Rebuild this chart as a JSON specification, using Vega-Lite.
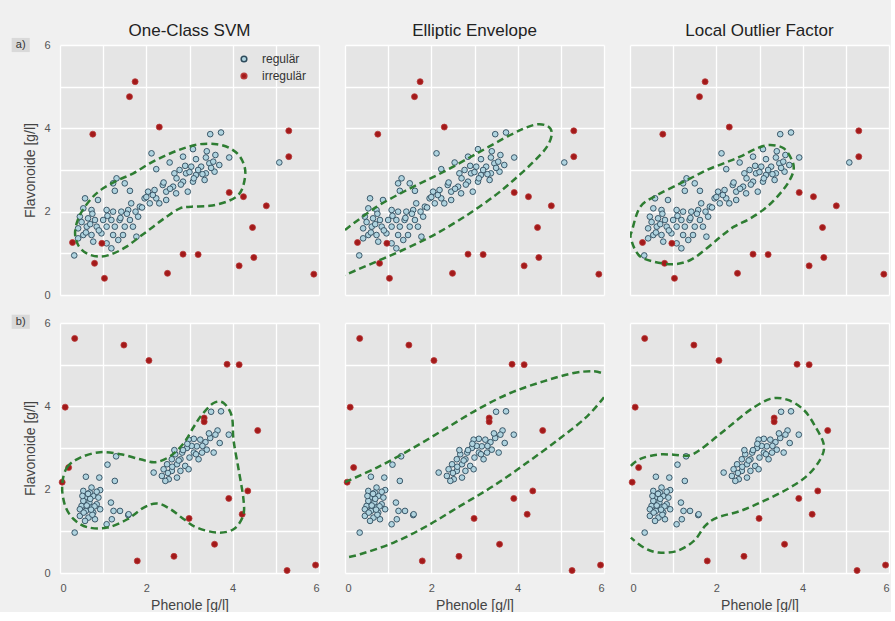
{
"$schema": "https://vega.github.io/schema/vega-lite/v6.json",
"background": "#f0f0f0",
"padding": {"left": 11, "top": 21, "right": 0, "bottom": 0},
"autosize": {"type": "pad"},
"config": {
 "view": {"fill": "#e5e5e5", "stroke": null},
 "axis": {"grid": true, "gridColor": "#ffffff", "gridWidth": 1.3, "domain": false, "ticks": false, "labelColor": "#555555", "labelFontSize": 11, "labelFont": "Liberation Sans", "titleFont": "Liberation Sans", "titleFontSize": 14, "titleFontWeight": "normal", "titleColor": "#444444"},
 "title": {"fontSize": 17, "font": "Liberation Sans", "fontWeight": "normal", "color": "#222222", "offset": 5, "frame": "group"},
 "legend": {"labelFont": "Liberation Sans"}
},
"datasets": {
 "regA": [{"x":3.48,"y":3.86},{"x":3.73,"y":3.9},{"x":2.12,"y":3.4},{"x":2.54,"y":3.18},{"x":2.23,"y":3.02},{"x":3.08,"y":3.5},{"x":2.85,"y":3.32},{"x":3.15,"y":3.26},{"x":3.38,"y":3.3},{"x":3.6,"y":3.36},{"x":3.92,"y":3.3},{"x":3.69,"y":3.12},{"x":3.46,"y":3.16},{"x":3.27,"y":3.08},{"x":3.04,"y":3.08},{"x":2.77,"y":3.0},{"x":2.65,"y":2.92},{"x":2.92,"y":2.92},{"x":3.15,"y":2.88},{"x":3.38,"y":2.92},{"x":3.58,"y":2.96},{"x":3.35,"y":2.76},{"x":3.08,"y":2.72},{"x":2.85,"y":2.72},{"x":2.62,"y":2.6},{"x":2.38,"y":2.64},{"x":2.19,"y":2.52},{"x":2.46,"y":2.48},{"x":2.69,"y":2.44},{"x":2.96,"y":2.48},{"x":2.04,"y":2.48},{"x":1.96,"y":2.32},{"x":2.23,"y":2.32},{"x":2.46,"y":2.28},{"x":2.08,"y":2.2},{"x":1.85,"y":2.12},{"x":1.65,"y":2.2},{"x":1.62,"y":2.5},{"x":1.27,"y":2.5},{"x":1.31,"y":2.8},{"x":1.5,"y":2.68},{"x":1.23,"y":2.68},{"x":1.81,"y":1.88},{"x":1.58,"y":2.04},{"x":1.42,"y":2.0},{"x":1.23,"y":2.0},{"x":1.08,"y":2.04},{"x":0.88,"y":2.28},{"x":0.58,"y":2.32},{"x":0.73,"y":2.04},{"x":0.54,"y":2.08},{"x":0.46,"y":1.88},{"x":0.65,"y":1.84},{"x":0.81,"y":1.8},{"x":1.0,"y":1.8},{"x":1.19,"y":1.8},{"x":1.38,"y":1.8},{"x":1.62,"y":1.8},{"x":1.69,"y":1.64},{"x":1.5,"y":1.64},{"x":1.27,"y":1.64},{"x":1.08,"y":1.64},{"x":0.85,"y":1.64},{"x":0.62,"y":1.64},{"x":0.42,"y":1.6},{"x":0.54,"y":1.44},{"x":0.73,"y":1.44},{"x":0.96,"y":1.48},{"x":1.23,"y":1.44},{"x":1.46,"y":1.44},{"x":1.77,"y":1.4},{"x":1.35,"y":1.32},{"x":1.08,"y":1.24},{"x":1.19,"y":1.12},{"x":0.42,"y":1.36},{"x":0.77,"y":1.28},{"x":2.4,"y":2.7},{"x":2.7,"y":2.8},{"x":3.0,"y":2.95},{"x":3.2,"y":3.0},{"x":2.55,"y":2.55},{"x":2.8,"y":2.65},{"x":3.1,"y":2.8},{"x":3.3,"y":2.9},{"x":2.0,"y":2.35},{"x":2.15,"y":2.4},{"x":1.75,"y":2.0},{"x":1.9,"y":2.1},{"x":0.6,"y":1.5},{"x":0.7,"y":1.7},{"x":0.5,"y":1.75},{"x":0.9,"y":1.55},{"x":1.1,"y":1.9},{"x":0.75,"y":1.95},{"x":1.4,"y":1.85},{"x":1.55,"y":1.95},{"x":3.5,"y":3.05},{"x":3.55,"y":3.2},{"x":3.4,"y":3.45},{"x":2.3,"y":2.2},{"x":2.9,"y":3.1},{"x":5.08,"y":3.18},{"x":0.33,"y":0.95}],
 "irrA": [{"x":1.74,"y":5.12},{"x":1.61,"y":4.76},{"x":0.76,"y":3.86},{"x":2.3,"y":4.03},{"x":5.3,"y":3.94},{"x":5.3,"y":3.32},{"x":3.92,"y":2.46},{"x":4.25,"y":2.36},{"x":4.78,"y":2.14},{"x":4.46,"y":1.62},{"x":4.49,"y":0.9},{"x":4.15,"y":0.7},{"x":5.88,"y":0.5},{"x":2.85,"y":0.98},{"x":3.2,"y":0.97},{"x":2.49,"y":0.52},{"x":1.03,"y":0.4},{"x":0.8,"y":0.76},{"x":0.97,"y":1.24},{"x":0.29,"y":1.26}],
 "regB": [{"x":1.1,"y":2.6},{"x":0.6,"y":2.31},{"x":0.91,"y":2.29},{"x":1.27,"y":2.21},{"x":0.93,"y":1.99},{"x":0.54,"y":1.97},{"x":0.73,"y":2.05},{"x":0.77,"y":1.85},{"x":0.58,"y":1.81},{"x":0.68,"y":1.69},{"x":0.85,"y":1.65},{"x":0.5,"y":1.61},{"x":0.6,"y":1.49},{"x":0.77,"y":1.45},{"x":0.93,"y":1.53},{"x":0.46,"y":1.37},{"x":0.66,"y":1.33},{"x":0.81,"y":1.29},{"x":1.18,"y":1.69},{"x":1.24,"y":1.49},{"x":1.39,"y":1.49},{"x":1.58,"y":1.39},{"x":1.2,"y":1.29},{"x":1.08,"y":1.17},{"x":0.46,"y":1.53},{"x":0.54,"y":1.73},{"x":0.69,"y":1.93},{"x":0.89,"y":1.81},{"x":0.73,"y":1.57},{"x":1.3,"y":2.8},{"x":1.59,"y":1.41},{"x":0.55,"y":1.45},{"x":0.62,"y":1.62},{"x":0.7,"y":1.78},{"x":0.8,"y":1.6},{"x":0.65,"y":1.9},{"x":0.75,"y":1.4},{"x":0.58,"y":1.25},{"x":0.85,"y":1.95},{"x":0.52,"y":1.85},{"x":0.72,"y":1.52},{"x":0.34,"y":0.97},{"x":3.5,"y":3.87},{"x":3.73,"y":3.88},{"x":3.65,"y":3.42},{"x":3.6,"y":3.32},{"x":3.7,"y":3.12},{"x":3.91,"y":3.32},{"x":3.48,"y":3.24},{"x":3.37,"y":3.14},{"x":3.25,"y":3.2},{"x":3.1,"y":3.22},{"x":2.98,"y":3.2},{"x":3.17,"y":3.04},{"x":3.4,"y":2.96},{"x":3.56,"y":2.89},{"x":3.29,"y":2.89},{"x":3.1,"y":2.89},{"x":2.94,"y":3.0},{"x":2.83,"y":2.89},{"x":3.0,"y":2.77},{"x":3.21,"y":2.73},{"x":2.79,"y":2.73},{"x":2.67,"y":2.85},{"x":2.59,"y":2.73},{"x":2.71,"y":2.61},{"x":2.9,"y":2.57},{"x":2.48,"y":2.61},{"x":2.4,"y":2.49},{"x":2.59,"y":2.45},{"x":2.79,"y":2.45},{"x":2.98,"y":2.49},{"x":2.17,"y":2.41},{"x":2.36,"y":2.33},{"x":2.52,"y":2.25},{"x":2.71,"y":2.29},{"x":2.44,"y":2.21},{"x":2.85,"y":2.95},{"x":3.05,"y":3.05},{"x":2.6,"y":2.55},{"x":2.75,"y":2.7},{"x":3.3,"y":3.05},{"x":3.45,"y":3.35},{"x":2.5,"y":2.4},{"x":3.15,"y":2.85},{"x":2.95,"y":3.1},{"x":2.65,"y":2.95}],
 "irrB": [{"x":0.34,"y":5.63},{"x":1.48,"y":5.47},{"x":2.06,"y":5.1},{"x":3.87,"y":5.01},{"x":4.15,"y":5.0},{"x":0.12,"y":3.98},{"x":3.34,"y":3.72},{"x":3.34,"y":3.63},{"x":4.58,"y":3.42},{"x":0.2,"y":2.53},{"x":0.05,"y":2.18},{"x":4.35,"y":1.97},{"x":3.91,"y":1.79},{"x":4.22,"y":1.41},{"x":2.99,"y":1.31},{"x":3.58,"y":0.69},{"x":2.64,"y":0.4},{"x":1.79,"y":0.29},{"x":5.26,"y":0.06},{"x":5.92,"y":0.19}],
 "cA1": [{"i":0,"x":0.35,"y":1.52},{"i":1,"x":0.46,"y":1.92},{"i":2,"x":0.73,"y":2.32},{"i":3,"x":1.0,"y":2.56},{"i":4,"x":1.35,"y":2.76},{"i":5,"x":1.7,"y":2.92},{"i":6,"x":2.08,"y":3.16},{"i":7,"x":2.47,"y":3.36},{"i":8,"x":2.86,"y":3.52},{"i":9,"x":3.24,"y":3.62},{"i":10,"x":3.63,"y":3.62},{"i":11,"x":3.94,"y":3.52},{"i":12,"x":4.17,"y":3.32},{"i":13,"x":4.29,"y":3.0},{"i":14,"x":4.25,"y":2.64},{"i":15,"x":4.13,"y":2.4},{"i":16,"x":3.86,"y":2.24},{"i":17,"x":3.47,"y":2.14},{"i":18,"x":3.05,"y":2.12},{"i":19,"x":2.78,"y":2.08},{"i":20,"x":2.47,"y":1.88},{"i":21,"x":2.16,"y":1.64},{"i":22,"x":1.85,"y":1.4},{"i":23,"x":1.54,"y":1.16},{"i":24,"x":1.24,"y":1.0},{"i":25,"x":0.93,"y":0.92},{"i":26,"x":0.62,"y":1.0},{"i":27,"x":0.42,"y":1.2}],
 "cA2": [{"i":0,"x":0,"y":1.56},{"i":1,"x":0.74,"y":2.12},{"i":2,"x":1.51,"y":2.56},{"i":3,"x":2.29,"y":2.96},{"i":4,"x":3.06,"y":3.4},{"i":5,"x":3.83,"y":3.84},{"i":6,"x":4.37,"y":4.08},{"i":7,"x":4.68,"y":4.06},{"i":8,"x":4.79,"y":3.88},{"i":9,"x":4.68,"y":3.56},{"i":10,"x":4.37,"y":3.2},{"i":11,"x":3.91,"y":2.76},{"i":12,"x":3.44,"y":2.36},{"i":13,"x":2.83,"y":1.92},{"i":14,"x":2.13,"y":1.48},{"i":15,"x":1.51,"y":1.16},{"i":16,"x":0.9,"y":0.88},{"i":17,"x":0,"y":0.48}],
 "cA3": [{"i":0,"x":0.05,"y":1.56},{"i":1,"x":0.24,"y":2.12},{"i":2,"x":0.63,"y":2.4},{"i":3,"x":1.09,"y":2.64},{"i":4,"x":1.4,"y":2.8},{"i":5,"x":1.78,"y":3.0},{"i":6,"x":2.17,"y":3.16},{"i":7,"x":2.55,"y":3.32},{"i":8,"x":2.94,"y":3.52},{"i":9,"x":3.25,"y":3.6},{"i":10,"x":3.56,"y":3.52},{"i":11,"x":3.75,"y":3.24},{"i":12,"x":3.79,"y":3.0},{"i":13,"x":3.68,"y":2.72},{"i":14,"x":3.48,"y":2.44},{"i":15,"x":3.18,"y":2.12},{"i":16,"x":2.79,"y":1.84},{"i":17,"x":2.41,"y":1.64},{"i":18,"x":2.1,"y":1.4},{"i":19,"x":1.78,"y":1.12},{"i":20,"x":1.4,"y":0.84},{"i":21,"x":1.01,"y":0.74},{"i":22,"x":0.55,"y":0.8},{"i":23,"x":0.2,"y":0.96},{"i":24,"x":0.02,"y":1.36}],
 "cB1": [{"i":0,"x":0.05,"y":2.09},{"i":1,"x":0.16,"y":2.53},{"i":2,"x":0.47,"y":2.77},{"i":3,"x":0.93,"y":2.9},{"i":4,"x":1.4,"y":2.85},{"i":5,"x":1.86,"y":2.73},{"i":6,"x":2.21,"y":2.66},{"i":7,"x":2.56,"y":2.81},{"i":8,"x":2.87,"y":3.12},{"i":9,"x":3.1,"y":3.51},{"i":10,"x":3.29,"y":3.8},{"i":11,"x":3.56,"y":4.08},{"i":12,"x":3.79,"y":4.08},{"i":13,"x":3.98,"y":3.76},{"i":14,"x":4.02,"y":3.19},{"i":15,"x":4.14,"y":2.47},{"i":16,"x":4.25,"y":1.77},{"i":17,"x":4.24,"y":1.37},{"i":18,"x":4.02,"y":1.05},{"i":19,"x":3.64,"y":0.97},{"i":20,"x":3.17,"y":1.09},{"i":21,"x":2.87,"y":1.29},{"i":22,"x":2.56,"y":1.53},{"i":23,"x":2.25,"y":1.67},{"i":24,"x":1.94,"y":1.57},{"i":25,"x":1.56,"y":1.29},{"i":26,"x":1.09,"y":1.09},{"i":27,"x":0.63,"y":1.1},{"i":28,"x":0.32,"y":1.29},{"i":29,"x":0.12,"y":1.61}],
 "cB2": [{"p":0,"i":0,"x":0,"y":2.18},{"p":0,"i":1,"x":0.74,"y":2.53},{"p":0,"i":2,"x":1.51,"y":2.96},{"p":0,"i":3,"x":2.29,"y":3.44},{"p":0,"i":4,"x":3.06,"y":3.92},{"p":0,"i":5,"x":3.83,"y":4.32},{"p":0,"i":6,"x":4.6,"y":4.6},{"p":0,"i":7,"x":5.3,"y":4.8},{"p":0,"i":8,"x":5.76,"y":4.84},{"p":0,"i":9,"x":6,"y":4.78},{"p":1,"i":0,"x":6,"y":4.22},{"p":1,"i":1,"x":5.61,"y":3.76},{"p":1,"i":2,"x":4.99,"y":3.24},{"p":1,"i":3,"x":4.22,"y":2.65},{"p":1,"i":4,"x":3.44,"y":2.09},{"p":1,"i":5,"x":2.67,"y":1.61},{"p":1,"i":6,"x":1.9,"y":1.13},{"p":1,"i":7,"x":1.13,"y":0.73},{"p":1,"i":8,"x":0.35,"y":0.45},{"p":1,"i":9,"x":0,"y":0.37}],
 "cB3": [{"i":0,"x":0.02,"y":2.57},{"i":1,"x":0.24,"y":2.74},{"i":2,"x":0.63,"y":2.84},{"i":3,"x":1.01,"y":2.84},{"i":4,"x":1.36,"y":2.82},{"i":5,"x":1.63,"y":2.96},{"i":6,"x":2.02,"y":3.28},{"i":7,"x":2.4,"y":3.6},{"i":8,"x":2.79,"y":3.92},{"i":9,"x":3.25,"y":4.18},{"i":10,"x":3.64,"y":4.16},{"i":11,"x":4.02,"y":3.92},{"i":12,"x":4.29,"y":3.52},{"i":13,"x":4.49,"y":3.08},{"i":14,"x":4.41,"y":2.73},{"i":15,"x":4.1,"y":2.33},{"i":16,"x":3.64,"y":2.01},{"i":17,"x":3.1,"y":1.73},{"i":18,"x":2.56,"y":1.49},{"i":19,"x":2.02,"y":1.33},{"i":20,"x":1.74,"y":1.13},{"i":21,"x":1.48,"y":0.77},{"i":22,"x":1.09,"y":0.53},{"i":23,"x":0.66,"y":0.49},{"i":24,"x":0.32,"y":0.61},{"i":25,"x":0.02,"y":0.85}]
},
"columns": 3,
"bounds": "flush",
"spacing": {"row": 28, "column": 26},
"resolve": {"scale": {"fill": "independent", "stroke": "independent"}, "legend": {"fill": "independent", "stroke": "independent"}},
"concat": [
  {"width": 259, "height": 250, "title": {"text": "One-Class SVM", "dy": 7}, "layer": [
   {"data": {"name": "regA"}, "mark": {"type": "point", "filled": true, "opacity": 1, "size": 32, "strokeWidth": 0.9},
    "encoding": {"x": {"field": "x", "type": "quantitative", "scale": {"domain": [0, 6], "nice": false}, "axis": {"values": [0,1,2,3,4,5,6], "labels": false, "title": null}},
     "y": {"field": "y", "type": "quantitative", "scale": {"domain": [0, 6], "nice": false}, "axis": {"values": [0,1,2,3,4,5,6], "labelExpr": "datum.value % 2 == 0 ? datum.label : ''", "title": "Flavonoide [g/l]", "labelPadding": 10, "titlePadding": 6}},
     "fill": {"datum": "regulär", "type": "nominal", "scale": {"domain": ["regulär", "irregulär"], "range": ["#afd3df", "#a31a1a"]}, "legend": {"orient": "none", "legendX": 178, "legendY": 8, "title": null, "labelFontSize": 12, "labelColor": "#333333", "labelOffset": 12, "rowPadding": 5, "symbolSize": 32, "padding": 0}},
     "stroke": {"datum": "regulär", "type": "nominal", "scale": {"domain": ["regulär", "irregulär"], "range": ["#2e4b5c", "#b83a3a"]}, "legend": {"orient": "none", "legendX": 178, "legendY": 8, "title": null, "labelFontSize": 12, "labelColor": "#333333", "labelOffset": 12, "rowPadding": 5, "symbolSize": 32, "padding": 0}}}},
   {"data": {"name": "irrA"}, "mark": {"type": "point", "filled": true, "opacity": 1, "size": 36, "strokeWidth": 0.8},
    "encoding": {"x": {"field": "x", "type": "quantitative"}, "y": {"field": "y", "type": "quantitative"}, "fill": {"datum": "irregulär", "type": "nominal"}, "stroke": {"datum": "irregulär", "type": "nominal"}}},
   {"data": {"name": "cA1"}, "mark": {"type": "line", "interpolate": "cardinal-closed", "strokeDash": [7, 4], "strokeWidth": 2.5, "color": "#2e7d32", "clip": true},
    "encoding": {"x": {"field": "x", "type": "quantitative"}, "y": {"field": "y", "type": "quantitative"}, "order": {"field": "i", "type": "quantitative"}}},
   {"data": {"values": [{}]}, "mark": {"type": "rect", "fill": "#d9d9d9", "clip": false},
    "encoding": {"x": {"datum": -1.12, "type": "quantitative"}, "x2": {"datum": -0.7}, "y": {"datum": 6.17, "type": "quantitative"}, "y2": {"datum": 5.83}}},
   {"data": {"values": [{}]}, "mark": {"type": "text", "fontSize": 11, "color": "#333333", "font": "Liberation Sans", "clip": false},
    "encoding": {"x": {"datum": -0.91, "type": "quantitative"}, "y": {"datum": 6.0, "type": "quantitative"}, "text": {"value": "a)"}}}
  ]},
  {"width": 259, "height": 250, "title": "Elliptic Envelope", "layer": [
   {"data": {"name": "regA"}, "mark": {"type": "point", "filled": true, "opacity": 1, "size": 32, "strokeWidth": 0.9, "fill": "#afd3df", "stroke": "#2e4b5c"},
    "encoding": {"x": {"field": "x", "type": "quantitative", "scale": {"domain": [0, 6], "nice": false}, "axis": {"values": [0,1,2,3,4,5,6], "labels": false, "title": null}},
     "y": {"field": "y", "type": "quantitative", "scale": {"domain": [0, 6], "nice": false}, "axis": {"values": [0,1,2,3,4,5,6], "labels": false, "title": null}}}},
   {"data": {"name": "irrA"}, "mark": {"type": "point", "filled": true, "opacity": 1, "size": 36, "strokeWidth": 0.8, "fill": "#a31a1a", "stroke": "#b83a3a"},
    "encoding": {"x": {"field": "x", "type": "quantitative"}, "y": {"field": "y", "type": "quantitative"}}},
   {"data": {"name": "cA2"}, "mark": {"type": "line", "interpolate": "cardinal", "strokeDash": [7, 4], "strokeWidth": 2.5, "color": "#2e7d32", "clip": true},
    "encoding": {"x": {"field": "x", "type": "quantitative"}, "y": {"field": "y", "type": "quantitative"}, "order": {"field": "i", "type": "quantitative"}}}
  ]},
  {"width": 259, "height": 250, "title": "Local Outlier Factor", "layer": [
   {"data": {"name": "regA"}, "mark": {"type": "point", "filled": true, "opacity": 1, "size": 32, "strokeWidth": 0.9, "fill": "#afd3df", "stroke": "#2e4b5c"},
    "encoding": {"x": {"field": "x", "type": "quantitative", "scale": {"domain": [0, 6], "nice": false}, "axis": {"values": [0,1,2,3,4,5,6], "labels": false, "title": null}},
     "y": {"field": "y", "type": "quantitative", "scale": {"domain": [0, 6], "nice": false}, "axis": {"values": [0,1,2,3,4,5,6], "labels": false, "title": null}}}},
   {"data": {"name": "irrA"}, "mark": {"type": "point", "filled": true, "opacity": 1, "size": 36, "strokeWidth": 0.8, "fill": "#a31a1a", "stroke": "#b83a3a"},
    "encoding": {"x": {"field": "x", "type": "quantitative"}, "y": {"field": "y", "type": "quantitative"}}},
   {"data": {"name": "cA3"}, "mark": {"type": "line", "interpolate": "cardinal-closed", "strokeDash": [7, 4], "strokeWidth": 2.5, "color": "#2e7d32", "clip": true},
    "encoding": {"x": {"field": "x", "type": "quantitative"}, "y": {"field": "y", "type": "quantitative"}, "order": {"field": "i", "type": "quantitative"}}}
  ]},
  {"width": 259, "height": 250, "layer": [
   {"data": {"name": "regB"}, "mark": {"type": "point", "filled": true, "opacity": 1, "size": 32, "strokeWidth": 0.9, "fill": "#afd3df", "stroke": "#2e4b5c"},
    "encoding": {"x": {"field": "x", "type": "quantitative", "scale": {"domain": [0, 6], "nice": false}, "axis": {"values": [0,1,2,3,4,5,6], "labelExpr": "datum.value % 2 == 0 ? datum.label : ''", "title": "Phenole [g/l]", "labelPadding": 9, "titlePadding": 5}},
     "y": {"field": "y", "type": "quantitative", "scale": {"domain": [0, 6], "nice": false}, "axis": {"values": [0,1,2,3,4,5,6], "labelExpr": "datum.value % 2 == 0 ? datum.label : ''", "title": "Flavonoide [g/l]", "labelPadding": 10, "titlePadding": 6}}}},
   {"data": {"name": "irrB"}, "mark": {"type": "point", "filled": true, "opacity": 1, "size": 36, "strokeWidth": 0.8, "fill": "#a31a1a", "stroke": "#b83a3a"},
    "encoding": {"x": {"field": "x", "type": "quantitative"}, "y": {"field": "y", "type": "quantitative"}}},
   {"data": {"name": "cB1"}, "mark": {"type": "line", "interpolate": "cardinal-closed", "strokeDash": [7, 4], "strokeWidth": 2.5, "color": "#2e7d32", "clip": true},
    "encoding": {"x": {"field": "x", "type": "quantitative"}, "y": {"field": "y", "type": "quantitative"}, "order": {"field": "i", "type": "quantitative"}}},
   {"data": {"values": [{}]}, "mark": {"type": "rect", "fill": "#d9d9d9", "clip": false},
    "encoding": {"x": {"datum": -1.12, "type": "quantitative"}, "x2": {"datum": -0.7}, "y": {"datum": 6.2, "type": "quantitative"}, "y2": {"datum": 5.86}}},
   {"data": {"values": [{}]}, "mark": {"type": "text", "fontSize": 11, "color": "#333333", "font": "Liberation Sans", "clip": false},
    "encoding": {"x": {"datum": -0.91, "type": "quantitative"}, "y": {"datum": 6.03, "type": "quantitative"}, "text": {"value": "b)"}}}
  ]},
  {"width": 259, "height": 250, "layer": [
   {"data": {"name": "regB"}, "mark": {"type": "point", "filled": true, "opacity": 1, "size": 32, "strokeWidth": 0.9, "fill": "#afd3df", "stroke": "#2e4b5c"},
    "encoding": {"x": {"field": "x", "type": "quantitative", "scale": {"domain": [0, 6], "nice": false}, "axis": {"values": [0,1,2,3,4,5,6], "labelExpr": "datum.value % 2 == 0 ? datum.label : ''", "title": "Phenole [g/l]", "labelPadding": 9, "titlePadding": 5}},
     "y": {"field": "y", "type": "quantitative", "scale": {"domain": [0, 6], "nice": false}, "axis": {"values": [0,1,2,3,4,5,6], "labels": false, "title": null}}}},
   {"data": {"name": "irrB"}, "mark": {"type": "point", "filled": true, "opacity": 1, "size": 36, "strokeWidth": 0.8, "fill": "#a31a1a", "stroke": "#b83a3a"},
    "encoding": {"x": {"field": "x", "type": "quantitative"}, "y": {"field": "y", "type": "quantitative"}}},
   {"data": {"name": "cB2"}, "mark": {"type": "line", "interpolate": "cardinal", "strokeDash": [7, 4], "strokeWidth": 2.5, "color": "#2e7d32", "clip": true},
    "encoding": {"x": {"field": "x", "type": "quantitative"}, "y": {"field": "y", "type": "quantitative"}, "order": {"field": "i", "type": "quantitative"}, "detail": {"field": "p", "type": "nominal"}}}
  ]},
  {"width": 259, "height": 250, "layer": [
   {"data": {"name": "regB"}, "mark": {"type": "point", "filled": true, "opacity": 1, "size": 32, "strokeWidth": 0.9, "fill": "#afd3df", "stroke": "#2e4b5c"},
    "encoding": {"x": {"field": "x", "type": "quantitative", "scale": {"domain": [0, 6], "nice": false}, "axis": {"values": [0,1,2,3,4,5,6], "labelExpr": "datum.value % 2 == 0 ? datum.label : ''", "title": "Phenole [g/l]", "labelPadding": 9, "titlePadding": 5}},
     "y": {"field": "y", "type": "quantitative", "scale": {"domain": [0, 6], "nice": false}, "axis": {"values": [0,1,2,3,4,5,6], "labels": false, "title": null}}}},
   {"data": {"name": "irrB"}, "mark": {"type": "point", "filled": true, "opacity": 1, "size": 36, "strokeWidth": 0.8, "fill": "#a31a1a", "stroke": "#b83a3a"},
    "encoding": {"x": {"field": "x", "type": "quantitative"}, "y": {"field": "y", "type": "quantitative"}}},
   {"data": {"name": "cB3"}, "mark": {"type": "line", "interpolate": "cardinal", "strokeDash": [7, 4], "strokeWidth": 2.5, "color": "#2e7d32", "clip": true},
    "encoding": {"x": {"field": "x", "type": "quantitative"}, "y": {"field": "y", "type": "quantitative"}, "order": {"field": "i", "type": "quantitative"}}}
  ]}
]
}
